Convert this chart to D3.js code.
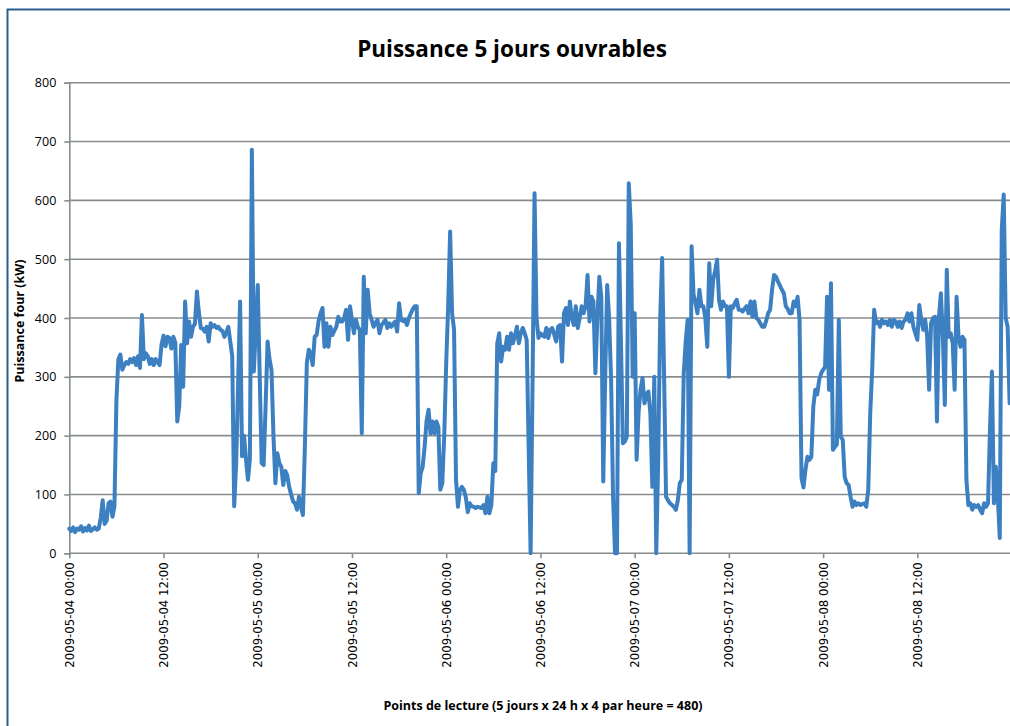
<!DOCTYPE html>
<html>
<head>
<meta charset="utf-8">
<script src="https://cdn.jsdelivr.net/npm/d3@7"></script>
<style>
  body { margin: 0; background: #fff; }
  svg { display: block; }
</style>
</head>
<body>
<svg id="chart" width="1010" height="726"></svg>
<script>
// readings: one value every 15 min, 4 per hour, 5 working days
const power = [
  42, 38, 44, 36, 42, 40, 46, 37, 43, 39, 47, 38,
  41, 44, 40, 42, 60, 90, 50, 55, 85, 88, 62, 80,
  260, 330, 338, 312, 320, 325, 322, 330, 325, 332, 320, 335,
  315, 405, 330, 340, 335, 322, 330, 320, 330, 325, 320, 355,
  370, 352, 368, 366, 348, 368, 358, 224, 250, 354, 283, 428,
  357, 394, 368, 385, 390, 445, 410, 383, 382, 377, 385, 360,
  391, 385, 388, 383, 385, 380, 378, 368, 375, 385, 360, 335,
  80, 153, 290, 428, 165, 200, 160, 125, 160, 686, 309, 380,
  456, 300, 153, 150, 250, 360, 330, 312, 200, 119, 170, 153,
  147, 116, 140, 133, 113, 100, 88, 85, 74, 96, 80, 65,
  181, 323, 346, 340, 320, 368, 371, 395, 408, 417, 351, 391,
  351, 385, 371, 378, 385, 402, 394, 394, 400, 414, 363, 420,
  397, 374, 397, 385, 380, 204, 470, 374, 448, 408, 397, 385,
  392, 397, 374, 388, 392, 397, 383, 391, 385, 390, 394, 377,
  425, 397, 395, 397, 388, 400, 408, 415, 420, 420, 102, 136,
  147, 181, 225, 244, 204, 224, 204, 224, 215, 108, 119, 200,
  323, 420, 547, 408, 380, 125, 79, 108, 113, 108, 95, 70,
  85, 80, 79, 77, 79, 78, 77, 82, 68, 96, 68, 82,
  153, 140, 357, 374, 326, 351, 346, 368, 346, 374, 357, 370,
  385, 357, 374, 383, 374, 363, 181, 0, 295, 612, 400, 366,
  374, 370, 368, 383, 366, 380, 383, 372, 360, 385, 388, 326,
  408, 417, 388, 428, 400, 388, 420, 383, 400, 420, 408, 420,
  473, 394, 436, 428, 306, 400, 470, 436, 122, 300, 456, 400,
  295, 96, 0, 0, 527, 363, 187, 190, 198, 629, 560, 300,
  408, 159, 240, 278, 298, 255, 270, 275, 238, 113, 300, 0,
  160, 400, 502, 300, 96, 90, 85, 82, 79, 74, 90, 119,
  125, 306, 360, 397, 0, 522, 440, 425, 408, 448, 420, 420,
  400, 351, 493, 420, 465, 480, 499, 430, 414, 428, 420, 420,
  300, 420, 417, 425, 431, 414, 414, 411, 416, 420, 408, 428,
  402, 428, 400, 397, 391, 385, 385, 395, 408, 414, 448, 473,
  470, 462, 455, 448, 442, 420, 415, 408, 408, 428, 420, 436,
  397, 128, 112, 142, 164, 159, 164, 249, 278, 270, 295, 306,
  312, 317, 436, 278, 459, 176, 181, 185, 397, 198, 193, 130,
  119, 116, 96, 79, 88, 82, 85, 82, 84, 85, 79, 108,
  238, 312, 414, 391, 394, 385, 397, 391, 394, 388, 397, 385,
  397, 394, 385, 394, 383, 394, 397, 408, 394, 408, 385, 374,
  363, 422, 397, 380, 397, 368, 278, 391, 400, 402, 224, 402,
  442, 368, 252, 482, 368, 374, 357, 278, 436, 368, 351, 368,
  363, 125, 82, 85, 74, 82, 79, 82, 74, 68, 85, 79,
  85, 210, 309, 85, 147, 96, 26, 550, 610, 400, 385, 255
];

const tickLabels = [
  "2009-05-04 00:00", "2009-05-04 12:00",
  "2009-05-05 00:00", "2009-05-05 12:00",
  "2009-05-06 00:00", "2009-05-06 12:00",
  "2009-05-07 00:00", "2009-05-07 12:00",
  "2009-05-08 00:00", "2009-05-08 12:00"
];
const yTicks = [0, 100, 200, 300, 400, 500, 600, 700, 800];

const title = "Puissance 5 jours ouvrables";
const yTitle = "Puissance four (kW)";
const xTitle = "Points de lecture (5 jours x 24 h x 4 par heure = 480)";

const svg = d3.select("#chart");
const gridCol = "#878d8d";

// chart frame (cut at right/bottom like the screenshot)
svg.append("rect")
   .attr("x", 7.5).attr("y", 9.5)
   .attr("width", 1100).attr("height", 800)
   .attr("fill", "none")
   .attr("stroke", "#2b5d8f")
   .attr("stroke-width", 2);

const x = d3.scalePoint()
            .domain(d3.range(power.length))
            .range([69.3, 1009.6]);

const y = d3.scaleLinear()
            .domain([0, 800])
            .range([553.3, 82.7]);

// gridlines
svg.append("g")
   .selectAll("line")
   .data(yTicks.filter(d => d > 0))
   .join("line")
   .attr("x1", 69.3).attr("x2", 1010)
   .attr("y1", d => y(d)).attr("y2", d => y(d))
   .attr("stroke", gridCol)
   .attr("stroke-width", 1.6);

// y axis
const yAxis = svg.append("g")
   .attr("transform", "translate(69.3,0)")
   .call(d3.axisLeft(y).tickValues(yTicks).tickSize(5).tickPadding(8));
yAxis.select(".domain").attr("stroke", gridCol).attr("stroke-width", 1.6);
yAxis.selectAll(".tick line").attr("stroke", gridCol).attr("stroke-width", 1.6);
yAxis.selectAll("text")
   .attr("font-family", "'Open Sans', sans-serif")
   .attr("font-size", "12.5px")
   .attr("fill", "#000");

// x axis
const xAxis = svg.append("g")
   .attr("transform", "translate(0,553.3)")
   .call(d3.axisBottom(x)
       .tickValues(d3.range(0, power.length, 48))
       .tickFormat(i => tickLabels[i / 48])
       .tickSize(5));
xAxis.select(".domain").attr("stroke", gridCol).attr("stroke-width", 1.6)
     .attr("d", "M69.3,0H1010");
xAxis.selectAll(".tick line").attr("stroke", gridCol).attr("stroke-width", 1.6);
xAxis.selectAll("text")
   .attr("font-family", "'DejaVu Sans', sans-serif")
   .attr("font-size", "11.7px")
   .attr("fill", "#000")
   .attr("transform", "rotate(-90)")
   .attr("text-anchor", "end")
   .attr("x", -9)
   .attr("y", 0)
   .attr("dy", "0.35em");

// series
const line = d3.line()
   .x((d, i) => x(i))
   .y(d => y(d));

svg.append("path")
   .datum(power)
   .attr("d", line)
   .attr("fill", "none")
   .attr("stroke", "#3c80c2")
   .attr("stroke-width", 4)
   .attr("stroke-linejoin", "round")
   .attr("stroke-linecap", "round");

// titles
svg.append("text")
   .attr("x", 512).attr("y", 57)
   .attr("text-anchor", "middle")
   .attr("font-family", "'Open Sans', sans-serif")
   .attr("font-weight", "bold")
   .attr("font-size", "22.5px")
   .text(title);

svg.append("text")
   .attr("transform", "translate(24,321) rotate(-90)")
   .attr("text-anchor", "middle")
   .attr("font-family", "'Open Sans', sans-serif")
   .attr("font-weight", "bold")
   .attr("font-size", "12.5px")
   .text(yTitle);

svg.append("text")
   .attr("x", 543).attr("y", 710)
   .attr("text-anchor", "middle")
   .attr("font-family", "'Open Sans', sans-serif")
   .attr("font-weight", "bold")
   .attr("font-size", "12.5px")
   .text(xTitle);
</script>
</body>
</html>
